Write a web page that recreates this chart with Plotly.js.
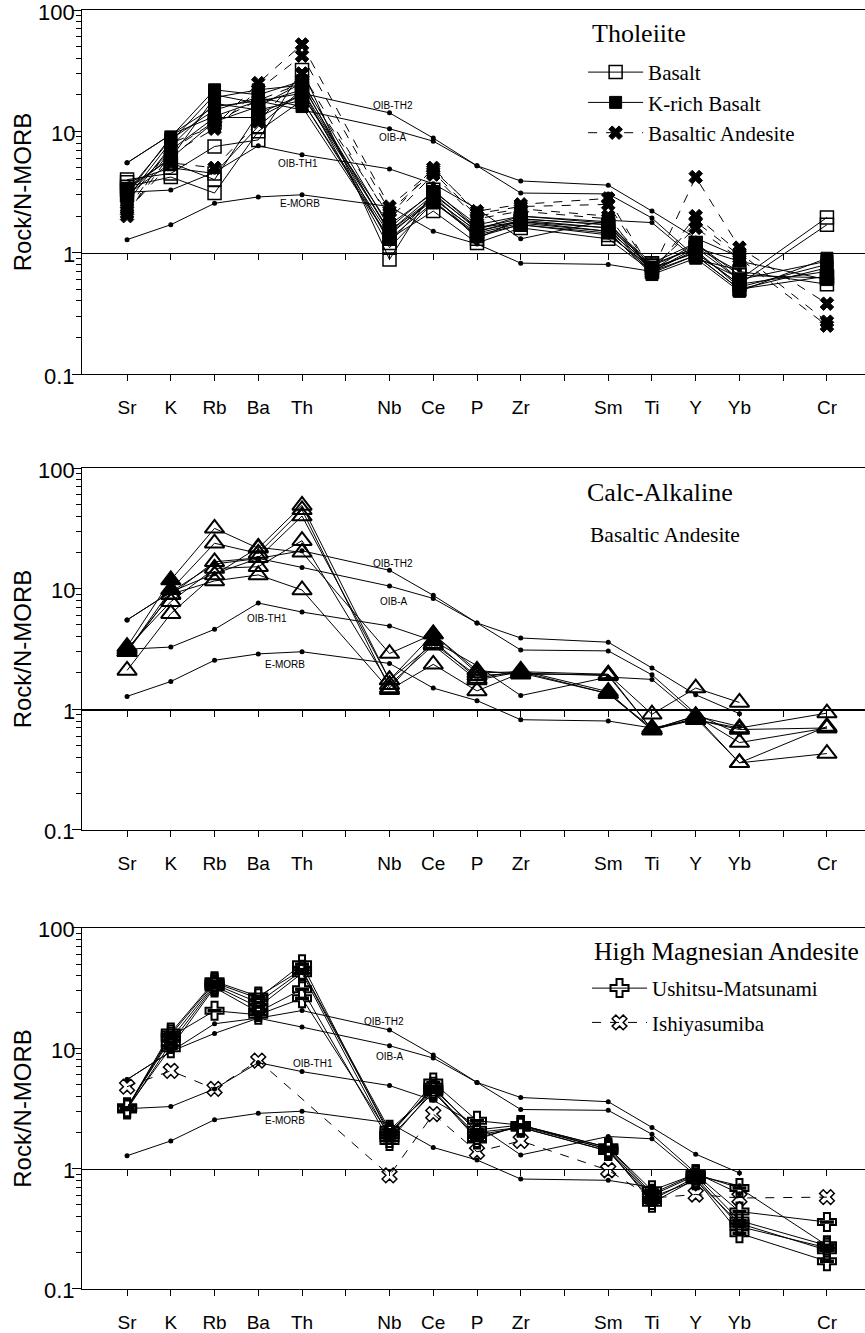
<!DOCTYPE html>
<html>
<head>
<meta charset="utf-8">
<script src="https://cdn.plot.ly/plotly-3.0.1.min.js"></script>
<style>html,body{margin:0;padding:0;background:#fff;}#chart{width:865px;height:1333px;}</style>
</head>
<body>
<div id="chart"></div>
<script>
// ---------- categories ----------
const elementGroups = [['Sr','K','Rb','Ba','Th'], ['Nb','Ce','P','Zr'], ['Sm','Ti','Y','Yb'], ['Cr']];
// element order: Sr K Rb Ba Th Nb Ce P Zr Sm Ti Y Yb Cr

// ---------- reference lines (same in all panels) ----------
const refEMORB  = [1.28, 1.7, 2.55, 2.88, 3.0, 2.4, 1.5, 1.18, 0.82, 0.8, 0.7, null, null, null];
const refOIBTH1 = [3.15, 3.28, 4.6, 7.6, 6.4, 4.9, 3.7, 2.3, 1.3, 1.85, 1.77, 0.88, 0.72, null];
const refOIBA   = [5.5, 9.4, 13.3, 17.8, 15.0, 10.5, 8.3, 5.2, 3.1, 3.05, 1.93, 0.92, 0.62, null];
const refOIBTH2 = [5.5, 9.4, 16.0, 17.8, 20.6, 14.2, 8.8, 5.2, 3.9, 3.6, 2.2, 1.32, 0.92, null];
const refNames  = ['OIB-TH2', 'OIB-A', 'OIB-TH1', 'E-MORB'];

// ---------- Panel 1: Tholeiite ----------
const basalt = [
  [4.0, 4.5, 7.5, 8.5, 32, 0.88, 3.3, 1.6, 1.8, 1.6, 0.8, 1.1, 0.6, 1.95],
  [3.8, 5.0, 4.5, 11, 22, 1.1, 2.6, 1.4, 1.7, 1.4, 0.75, 1.0, 0.55, 1.7],
  [3.5, 4.2, 3.1, 10, 18, 1.3, 2.2, 1.2, 1.6, 1.3, 0.7, 0.95, 0.5, 0.64],
  [3.0, 5.5, 4.0, 14, 20, 1.5, 2.8, 1.5, 1.8, 1.5, 0.78, 1.1, 0.7, 0.55],
  [3.3, 6.0, 12, 16, 25, 1.2, 3.0, 1.3, 1.9, 1.7, 0.82, 1.2, 0.65, 0.62]
];
const kRichBasalt = [
  [3.0, 9.0, 22, 20, 26, 1.6, 3.2, 1.7, 2.0, 1.8, 0.72, 1.2, 0.6, 0.85],
  [2.8, 8.2, 20, 17, 22, 1.5, 3.0, 1.6, 1.9, 1.7, 0.7, 1.05, 0.52, 0.8],
  [2.6, 7.5, 17, 15, 18, 1.4, 2.8, 1.5, 1.85, 1.6, 0.68, 0.95, 0.5, 0.75],
  [3.2, 8.6, 15, 19, 16, 1.3, 2.6, 1.45, 1.75, 1.5, 0.66, 0.9, 0.48, 0.9],
  [2.9, 7.0, 13, 13, 20, 1.7, 3.1, 1.55, 2.0, 1.75, 0.74, 1.0, 0.55, 0.7],
  [3.4, 6.0, 19, 22, 24, 1.45, 2.7, 1.35, 1.7, 1.45, 0.7, 1.1, 0.85, 0.6]
];
const tholBasAndesite = [
  [2.0, 8.0, 11, 25, 52, 2.4, 4.8, 2.2, 2.5, 2.8, 0.7, 4.2, 1.1, 0.38],
  [2.1, 6.5, 10.5, 22, 42, 2.2, 4.6, 2.0, 2.3, 2.0, 0.68, 2.0, 1.0, 0.27],
  [2.2, 5.5, 5.0, 12, 30, 1.9, 4.4, 1.9, 2.2, 1.9, 0.75, 1.6, 0.9, 0.25],
  [2.3, 7.0, 12, 18, 25, 2.0, 5.0, 2.1, 2.4, 2.5, 0.7, 1.8, 0.95, null]
];

// ---------- Panel 2: Calc-Alkaline basaltic andesite ----------
const calcAlkDark = [
  [3.3, 11.8, 31.6, 21.6, 49, 1.75, 4.2, 2.0, 2.05, 1.35, 0.68, 0.88, 0.36, 0.72],
  [3.0, 9.8, 23.8, 19.6, 45, 1.5, 3.7, 1.8, 2.1, 1.4, 0.67, 0.85, 0.36, 0.43]
];
const calcAlkOpen = [
  [3.1, 8.9, 16.7, 18, 40, 1.75, 3.5, 1.9, 2.0, 1.35, 0.7, 0.82, 0.7, 0.93],
  [3.2, 7.8, 14.7, 15.2, 25, 1.6, 3.4, 1.75, 2.05, 1.95, 0.68, 0.88, 0.53, 0.7],
  [2.1, 6.2, 13, 22, 20, 2.9, 4.2, 2.1, 1.95, 1.95, 0.91, 1.5, 1.14, null],
  [3.0, 9.0, 11.6, 13, 9.75, 1.45, 2.36, 1.42, 2.0, 1.9, 0.68, 0.82, 0.68, 0.7]
];
const calcAlkDarkAt = ['Sr', 'K', 'Ce', 'Zr', 'Sm', 'Ti', 'Y'];

// ---------- Panel 3: High Magnesian Andesite ----------
const ushitsuMatsunami = [
  [3.2, 13, 35, 26, 50, 1.9, 5.2, 2.5, 2.3, 1.5, 0.66, 0.9, 0.44, 0.36],
  [3.2, 12, 34, 24, 44, 2.0, 4.6, 2.1, 2.3, 1.45, 0.6, 0.88, 0.37, 0.23],
  [3.1, 11, 33, 22, 42, 1.8, 4.3, 1.9, 2.2, 1.4, 0.55, 0.85, 0.33, 0.22],
  [3.2, 10, 32, 20, 31, 1.7, 4.5, 1.8, 2.25, 1.45, 0.52, 0.82, 0.29, 0.17],
  [3.2, 12.5, 20.5, 19, 26, 1.9, 4.8, 2.0, 2.2, 1.4, 0.58, 0.8, 0.35, 0.21],
  [3.2, 13.5, 36, 27, 45, 2.1, 4.4, 1.75, 2.3, 1.5, 0.62, 0.9, 0.69, 0.23]
];
const ishiyasumiba = [4.8, 6.5, 4.6, 7.9, null, 0.88, 2.84, 1.38, 1.7, 0.97, 0.57, 0.61, 0.57, 0.58];

// ---------- axis labels ----------
const yTickVals = [0.1, 1, 10, 100];
const yTickText = ['0.1', '1', '10', '100'];

// ---------- derived positions ----------
const elements = [];
const xPos = [];
let slot = 1;
elementGroups.forEach(g => { g.forEach(e => { elements.push(e); xPos.push(slot++); }); slot++; });
const nSlots = slot - 2; // 17
const xTickVals = [], xTickText = [];
for (let i = 1; i <= nSlots; i++) {
  xTickVals.push(i);
  const k = xPos.indexOf(i);
  xTickText.push(k >= 0 ? elements[k] : '');
}
const minorVals = [];
[0.1, 1, 10].forEach(d => { for (let k = 2; k <= 9; k++) minorVals.push(+(k * d).toFixed(3)); });

const SANS = 'Liberation Sans, Arial, sans-serif';
const SERIF = 'Liberation Serif, Times New Roman, serif';

const traces = [];
function addLine(y, ax, opt) {
  traces.push(Object.assign({
    type: 'scatter', mode: opt.mode || 'lines+markers', x: xPos, y: y,
    xaxis: 'x' + ax.x, yaxis: 'y' + ax.y, connectgaps: true,
    hoverinfo: 'skip', showlegend: false,
    line: {color: 'black', width: 1, dash: opt.dash || 'solid'},
    marker: opt.marker
  }, opt.extra || {}));
}
const axes = [{x: '', y: ''}, {x: '2', y: '2'}, {x: '3', y: '3'}];
const refMarker = {symbol: 'circle', size: 5, color: 'black'};

axes.forEach(ax => {
  [refEMORB, refOIBTH1, refOIBA, refOIBTH2].forEach(r => addLine(r, ax, {marker: refMarker}));
});

// Panel 1
basalt.forEach((y, i) => addLine(y, axes[0], {
  marker: {symbol: 'square-open', size: 13, color: 'black', line: {width: 1.5, color: 'black'}},
  extra: i === 0 ? {showlegend: true, name: 'Basalt', legendgroup: 'b', legend: 'legend'} : {legendgroup: 'b'}
}));
kRichBasalt.forEach((y, i) => addLine(y, axes[0], {
  marker: {symbol: 'square', size: 12, color: 'black', line: {width: 1, color: 'black'}},
  extra: i === 0 ? {showlegend: true, name: 'K-rich Basalt', legendgroup: 'k', legend: 'legend'} : {legendgroup: 'k'}
}));
tholBasAndesite.forEach((y, i) => addLine(y, axes[0], {
  dash: 'dash',
  marker: {symbol: 'x', size: 12, color: 'black', line: {width: 1, color: 'black'}},
  extra: i === 0 ? {showlegend: true, name: 'Basaltic Andesite', legendgroup: 'ba', legend: 'legend'} : {legendgroup: 'ba'}
}));

// Panel 2
calcAlkOpen.forEach(y => addLine(y, axes[1], {
  marker: {symbol: 'triangle-up-open', size: 17, color: 'black', line: {width: 2, color: 'black'}}
}));
const darkSymbols = elements.map(e => calcAlkDarkAt.indexOf(e) >= 0 ? 'triangle-up' : 'triangle-up-open');
calcAlkDark.forEach(y => addLine(y, axes[1], {
  marker: {symbol: darkSymbols, size: 17, color: 'black', line: {width: 2, color: 'black'}}
}));

// Panel 3
ushitsuMatsunami.forEach((y, i) => {
  addLine(y, axes[2], {
    marker: {symbol: 'cross-open', size: 15, color: 'black', line: {width: 2, color: 'black'}},
    extra: i === 0 ? {showlegend: true, name: 'Ushitsu-Matsunami', legendgroup: 'u', legend: 'legend2'} : {legendgroup: 'u'}
  });
  addLine(y, axes[2], {mode: 'markers',
    marker: {symbol: 'line-ew-open', size: 10, color: 'black', line: {width: 3.5, color: 'black'}}});
});
addLine(ishiyasumiba, axes[2], {
  dash: 'dash',
  marker: {symbol: 'x-open', size: 13, color: 'black', line: {width: 1.5, color: 'black'}},
  extra: {showlegend: true, name: 'Ishiyasumiba', legendgroup: 'i', legend: 'legend2'}
});

// helper traces so that the unity-line axes exist
['4', '5', '6'].forEach((n, i) => {
  traces.push({type: 'scatter', mode: 'none', x: [], y: [], xaxis: 'x' + n, yaxis: 'y' + axes[i].y, showlegend: false, hoverinfo: 'skip'});
});

const xRange = [-0.03, 17.87];
const domains = [[0.7154, 1], [0.3589, 0.6419], [0, 0.2823]];

function xAxis(anchor) {
  return {
    range: xRange, anchor: anchor, tickmode: 'array', tickvals: xTickVals, ticktext: xTickText,
    ticks: 'outside', ticklen: 6, tickwidth: 1, tickcolor: 'black',
    showline: true, linecolor: 'black', linewidth: 1.2, mirror: true,
    showgrid: false, zeroline: false, ticklabelstandoff: 10,
    tickfont: {family: SANS, size: 19, color: 'black'}
  };
}
function yAxis(dom, anchor) {
  return {
    type: 'log', range: [-1, 2], domain: dom, anchor: anchor,
    tickmode: 'array', tickvals: yTickVals, showticklabels: false,
    ticks: 'outside', ticklen: 9, tickwidth: 1, tickcolor: 'black',
    minor: {tickmode: 'array', tickvals: minorVals, ticks: 'outside', ticklen: 5, tickwidth: 1, tickcolor: 'black', showgrid: false},
    showline: true, linecolor: 'black', linewidth: 1.2, mirror: false,
    showgrid: false, zeroline: false,
    title: {text: 'Rock/N-MORB', font: {family: SANS, size: 24, color: 'black'}, standoff: 33}
  };
}
function unityAxis(over, dom) {
  return {
    overlaying: over, anchor: 'free', position: dom[0] + (dom[1] - dom[0]) / 3,
    range: xRange, tickmode: 'array', tickvals: xTickVals, showticklabels: false,
    ticks: 'outside', ticklen: 6, tickwidth: 1, tickcolor: 'black',
    showline: true, linecolor: 'black', linewidth: 1.2, showgrid: false, zeroline: false
  };
}

function refLabels(yref, xref, p) {
  return refNames.map((t, i) => ({
    text: t, xref: xref, yref: yref, x: p[i][0], y: p[i][1], showarrow: false,
    font: {family: SANS, size: 10, color: 'black'}, xanchor: 'center', yanchor: 'middle'
  }));
}
function yTickLabels(yref) {
  return yTickVals.map((v, i) => ({
    text: yTickText[i], xref: 'paper', yref: yref, x: -0.0064, y: Math.log10(v), showarrow: false,
    xanchor: 'right', yanchor: 'middle', yshift: -2,
    font: {family: SANS, size: 22, color: 'black'}
  }));
}
function titleNote(text, x, y, size, anchor) {
  return {text: text, xref: 'paper', yref: 'paper', x: x, y: y, showarrow: false,
    font: {family: SERIF, size: size, color: 'black'}, xanchor: anchor, yanchor: 'middle'};
}

const annotations = [].concat(
  yTickLabels('y'), yTickLabels('y2'), yTickLabels('y3'),
  refLabels('y', 'x', [[7.08, 1.212], [7.08, 0.948], [4.91, 0.734], [4.95, 0.404]]),
  refLabels('y2', 'x2', [[7.08, 1.207], [7.1, 0.893], [4.2, 0.752], [4.61, 0.372]]),
  refLabels('y3', 'x3', [[6.87, 1.225], [7.01, 0.933], [5.25, 0.875], [4.61, 0.4]]),
  [
    titleNote('Tholeiite', 0.6488, 0.982, 26, 'left'),
    titleNote('Calc-Alkaline', 0.738, 0.6224, 26, 'center'),
    titleNote('Basaltic Andesite', 0.744, 0.5895, 21.5, 'center'),
    titleNote('High Magnesian Andesite', 0.6513, 0.2635, 25.5, 'left')
  ]
);

const legendBase = {
  xanchor: 'left', yanchor: 'top', bgcolor: 'rgba(0,0,0,0)', borderwidth: 0,
  font: {family: SERIF, size: 21, color: 'black'}, traceorder: 'grouped', itemwidth: 55
};

const layout = {
  width: 865, height: 1333,
  margin: {l: 82, r: 0, t: 10, b: 44},
  paper_bgcolor: 'white', plot_bgcolor: 'white',
  showlegend: true,
  xaxis: xAxis('y'), xaxis2: xAxis('y2'), xaxis3: xAxis('y3'),
  yaxis: yAxis(domains[0], 'x'), yaxis2: yAxis(domains[1], 'x2'), yaxis3: yAxis(domains[2], 'x3'),
  xaxis4: unityAxis('x', domains[0]), xaxis5: unityAxis('x2', domains[1]), xaxis6: unityAxis('x3', domains[2]),
  legend: Object.assign({}, legendBase, {x: 0.64, y: 0.9672, tracegroupgap: 0}),
  legend2: Object.assign({}, legendBase, {x: 0.645, y: 0.251, tracegroupgap: 4}),
  annotations: annotations
};

Plotly.newPlot('chart', traces, layout, {staticPlot: true, displayModeBar: false});
</script>
</body>
</html>
